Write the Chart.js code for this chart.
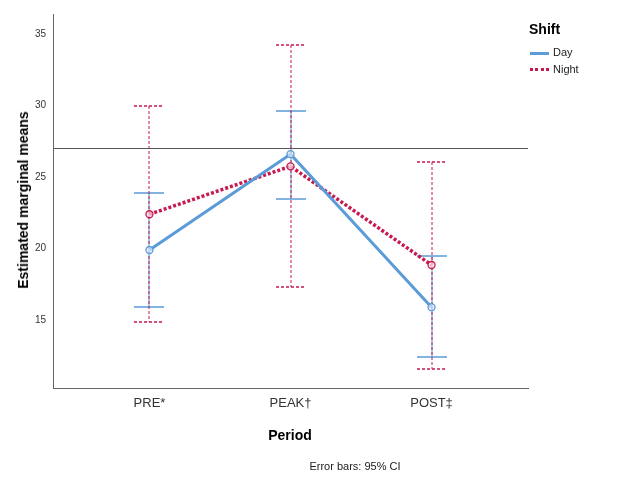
<!DOCTYPE html>
<html>
<head>
<meta charset="utf-8">
<script src="https://cdn.jsdelivr.net/npm/chart.js@4"></script>
<style>
  body { margin: 0; background: #fff; font-family: "Liberation Sans", Arial, sans-serif; }
  #wrap { position: relative; width: 629px; height: 482px; }
  .lbl { position: absolute; color: #000; white-space: nowrap; }
  .bold { font-weight: bold; font-size: 14px; }
</style>
</head>
<body>
<div id="wrap">
  <canvas id="chart" width="629" height="482"></canvas>
  <div class="lbl bold" style="left:23px;top:200px;transform:translate(-50%,-50%) rotate(-90deg);">Estimated marginal means</div>
  <div class="lbl bold" style="left:290px;top:435px;transform:translate(-50%,-50%);">Period</div>
  <div class="lbl" style="left:355px;top:466px;transform:translate(-50%,-50%);font-size:11px;color:#222;">Error bars: 95% CI</div>

  <div class="lbl bold" style="left:529px;top:21px;">Shift</div>
  <div style="position:absolute;left:530px;top:52px;width:19px;height:3px;background:#5a9bd8;"></div>
  <div class="lbl" style="left:553px;top:46px;font-size:11px;color:#222;">Day</div>
  <div style="position:absolute;left:530px;top:68px;width:19px;border-top:3px dotted #c8194f;"></div>
  <div class="lbl" style="left:553px;top:63px;font-size:11px;color:#222;">Night</div>
</div>
<script>
const periods = ['PRE*', 'PEAK†', 'POST‡'];
const periodPos = [1, 2, 3];
const yTicks = [15, 20, 25, 30, 35];

const dayMeans = [19.9, 26.6, 15.9];
const dayUpper = [23.9, 29.65, 19.45];
const dayLower = [15.9, 23.45, 12.4];

const nightMeans = [22.4, 25.75, 18.85];
const nightUpper = [30.0, 34.2, 26.05];
const nightLower = [14.85, 17.3, 11.6];

const refLine = 27.05;

const dayColor = '#5a9bd8';
const nightColor = '#c8194f';

function toPoints(values) {
  return values.map((v, i) => ({ x: periodPos[i], y: v }));
}

// SPSS style error bars plus the horizontal reference line
const errorBars = {
  id: 'errorBars',
  beforeDatasetsDraw(chart) {
    const { ctx, chartArea, scales: { x, y } } = chart;
    const series = [
      { lo: dayLower, hi: dayUpper, color: dayColor, dash: [], width: 1.5 },
      { lo: nightLower, hi: nightUpper, color: nightColor, dash: [3, 2], width: 1.3 },
    ];

    ctx.save();
    for (const s of series) {
      ctx.strokeStyle = s.color;
      ctx.setLineDash(s.dash);
      periodPos.forEach((p, i) => {
        const px = Math.round(x.getPixelForValue(p));
        const top = Math.round(y.getPixelForValue(s.hi[i]));
        const bottom = Math.round(y.getPixelForValue(s.lo[i]));
        ctx.lineWidth = 1;
        ctx.beginPath();
        ctx.moveTo(px, top);
        ctx.lineTo(px, bottom);
        ctx.stroke();
        ctx.lineWidth = s.width;
        ctx.beginPath();
        ctx.moveTo(px - 15, top);
        ctx.lineTo(px + 15, top);
        ctx.moveTo(px - 15, bottom);
        ctx.lineTo(px + 15, bottom);
        ctx.stroke();
      });
    }

    const ry = Math.round(y.getPixelForValue(refLine)) + 0.5;
    ctx.setLineDash([]);
    ctx.strokeStyle = '#555';
    ctx.lineWidth = 1;
    ctx.beginPath();
    ctx.moveTo(chartArea.left, ry);
    ctx.lineTo(chartArea.right, ry);
    ctx.stroke();
    ctx.restore();
  },
};

new Chart(document.getElementById('chart'), {
  type: 'line',
  data: {
    datasets: [
      {
        label: 'Day',
        data: toPoints(dayMeans),
        borderColor: dayColor,
        borderWidth: 3,
        pointRadius: 3.5,
        pointBorderWidth: 1.3,
        pointBackgroundColor: 'rgba(220,235,250,0.7)',
        pointBorderColor: dayColor,
        tension: 0,
      },
      {
        label: 'Night',
        data: toPoints(nightMeans),
        borderColor: nightColor,
        borderWidth: 3.5,
        borderDash: [3, 2],
        pointRadius: 3.5,
        pointBorderWidth: 1.3,
        pointBackgroundColor: 'rgba(250,220,230,0.7)',
        pointBorderColor: nightColor,
        tension: 0,
      },
    ],
  },
  options: {
    responsive: false,
    animation: false,
    layout: { padding: { left: 0, top: 14, right: 101, bottom: 0 } },
    plugins: {
      legend: { display: false },
      tooltip: { enabled: false },
    },
    scales: {
      x: {
        type: 'linear',
        min: 0.316,
        max: 3.684,
        afterBuildTicks: (scale) => { scale.ticks = periodPos.map((v) => ({ value: v })); },
        afterFit: (scale) => { scale.height = 94; },
        ticks: {
          padding: 8,
          color: '#333',
          font: { family: 'Liberation Sans', size: 13 },
          callback: (v) => periods[periodPos.indexOf(v)] ?? '',
        },
        grid: { display: false, drawTicks: false },
        border: { color: '#666', width: 1 },
      },
      y: {
        min: 10.25,
        max: 36.4,
        afterBuildTicks: (scale) => { scale.ticks = yTicks.map((v) => ({ value: v })); },
        afterFit: (scale) => { scale.width = 53; },
        ticks: {
          padding: 7,
          color: '#333',
          font: { family: 'Liberation Sans', size: 10 },
        },
        grid: { display: false, drawTicks: false },
        border: { color: '#666', width: 1 },
      },
    },
  },
  plugins: [errorBars],
});
</script>
</body>
</html>
